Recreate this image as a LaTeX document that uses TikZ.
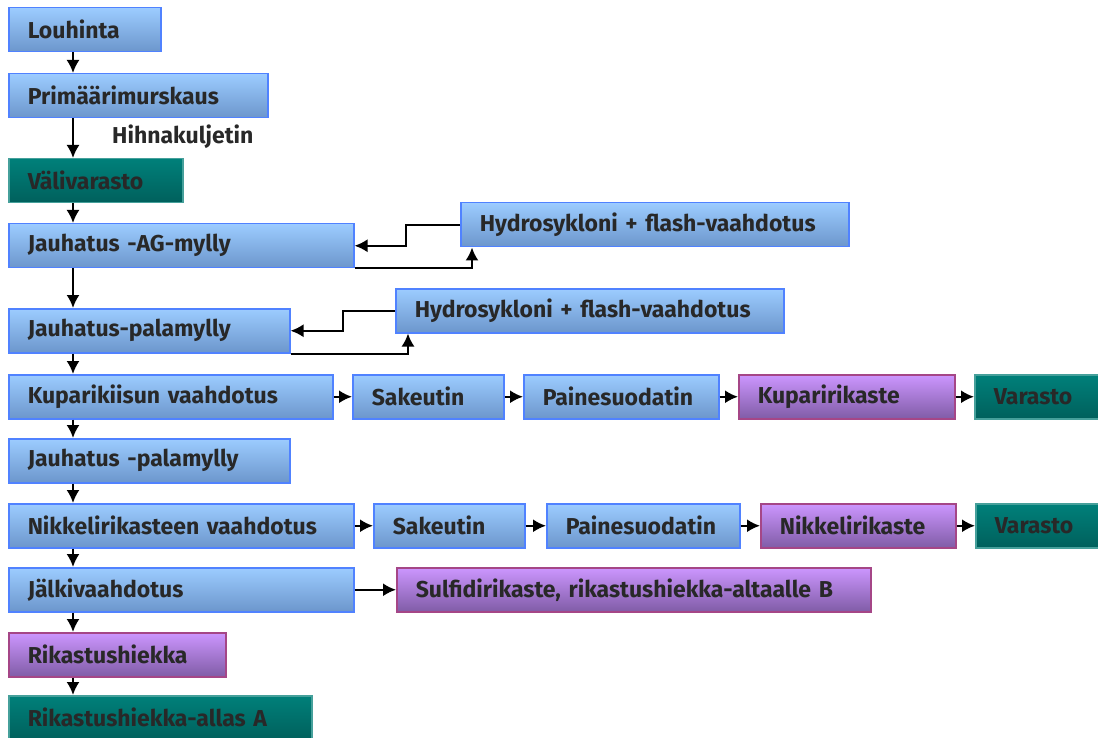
\documentclass[tikz,border=0pt]{standalone}
\usepackage{fontspec}
\setmainfont{Fira Sans}
\usetikzlibrary{arrows.meta}

\definecolor{bluetop}{RGB}{156,204,255}
\definecolor{bluebot}{RGB}{108,150,204}
\definecolor{blueline}{RGB}{80,130,255}
\definecolor{purptop}{RGB}{204,150,255}
\definecolor{purpbot}{RGB}{128,92,166}
\definecolor{purpline}{RGB}{165,70,135}
\definecolor{tealtop}{RGB}{0,128,122}
\definecolor{tealbot}{RGB}{0,96,92}
\definecolor{tealline}{RGB}{70,160,155}
\definecolor{txtgray}{RGB}{40,40,40}

\tikzset{
  box/.style={draw, line width=1.5pt, anchor=north west, minimum height=44pt,
    inner xsep=19pt, align=left, text=txtgray,
    font=\fontsize{23}{26}\selectfont\bfseries},
  procbox/.style={box, draw=blueline, top color=bluetop, bottom color=bluebot},
  prodbox/.style={box, draw=purpline, top color=purptop, bottom color=purpbot},
  storebox/.style={box, draw=tealline, top color=tealtop, bottom color=tealbot},
  flow/.style={line width=2pt, -{Latex[length=13pt,width=13pt]}}
}

\begin{document}
\begin{tikzpicture}[x=1pt, y=-1pt]
  \useasboundingbox (0,0) rectangle (1098,738);

  % main line
  \node[procbox, text width=114pt] (lou) at (8,7) {Louhinta};
  \node[procbox, text width=221pt] (prim) at (8,73) {Primäärimurskaus};
  \node[storebox, text width=136pt] (vali) at (8,158) {Välivarasto};
  \node[procbox, text width=307pt] (ag) at (8,223) {Jauhatus -AG-mylly};
  \node[procbox, text width=243pt] (pala) at (8,308) {Jauhatus-palamylly};
  \node[procbox, text width=286pt] (kupv) at (8,374) {Kuparikiisun vaahdotus};
  \node[procbox, text width=243pt] (pala2) at (8,438) {Jauhatus -palamylly};
  \node[procbox, text width=307pt] (nikv) at (8,503) {Nikkelirikasteen vaahdotus};
  \node[procbox, text width=307pt] (jalk) at (8,567) {Jälkivaahdotus};
  \node[prodbox, text width=179pt] (rik) at (8,632) {Rikastushiekka};
  \node[storebox, text width=265pt] (allas) at (8,695) {Rikastushiekka-allas A};

  \node[anchor=west, inner sep=0pt, text=txtgray, font=\fontsize{23}{26}\selectfont\bfseries]
    (hihna) at (112,137) {Hihnakuljetin};

  % hydrocyclones
  \node[procbox, text width=350pt] (hyd1) at (460,202) {Hydrosykloni + flash-vaahdotus};
  \node[procbox, text width=350pt] (hyd2) at (395,288) {Hydrosykloni + flash-vaahdotus};

  % copper row
  \node[procbox, text width=113pt] (sak1) at (352,374) {Sakeutin};
  \node[procbox, text width=157pt] (pai1) at (523,374) {Painesuodatin};
  \node[prodbox, text width=178pt] (kupr) at (738,374) {Kuparirikaste};
  \node[storebox, text width=100pt] (var1) at (974,374) {Varasto};

  % nickel row
  \node[procbox, text width=113pt] (sak2) at (373,503) {Sakeutin};
  \node[procbox, text width=155pt] (pai2) at (546,503) {Painesuodatin};
  \node[prodbox, text width=157pt] (nikr) at (760,503) {Nikkelirikaste};
  \node[storebox, text width=100pt] (var2) at (975,503) {Varasto};

  \node[prodbox, text width=436pt] (sulf) at (396,567) {Sulfidirikaste, rikastushiekka-altaalle B};

  % down arrows
  \foreach \a/\b in {lou/prim, prim/vali, vali/ag, ag/pala, pala/kupv,
                     kupv/pala2, pala2/nikv, nikv/jalk, jalk/rik, rik/allas}
    \draw[flow] ([xshift=65pt]\a.south west) -- ([xshift=65pt]\b.north west);

  % side arrows
  \foreach \a/\b in {kupv/sak1, sak1/pai1, pai1/kupr, kupr/var1,
                     nikv/sak2, sak2/pai2, pai2/nikr, nikr/var2, jalk/sulf}
    \draw[flow] (\a.east) -- (\b.west);

  % loops to the cyclones
  \draw[flow] (hyd1.west) -- ++(-54,0) |- (ag.east);
  \draw[flow] (ag.south east) -| ([xshift=12pt]hyd1.south west);
  \draw[flow] (hyd2.west) -- ++(-52,0) |- (pala.east);
  \draw[flow] (pala.south east) -| ([xshift=13pt]hyd2.south west);
\end{tikzpicture}
\end{document}
